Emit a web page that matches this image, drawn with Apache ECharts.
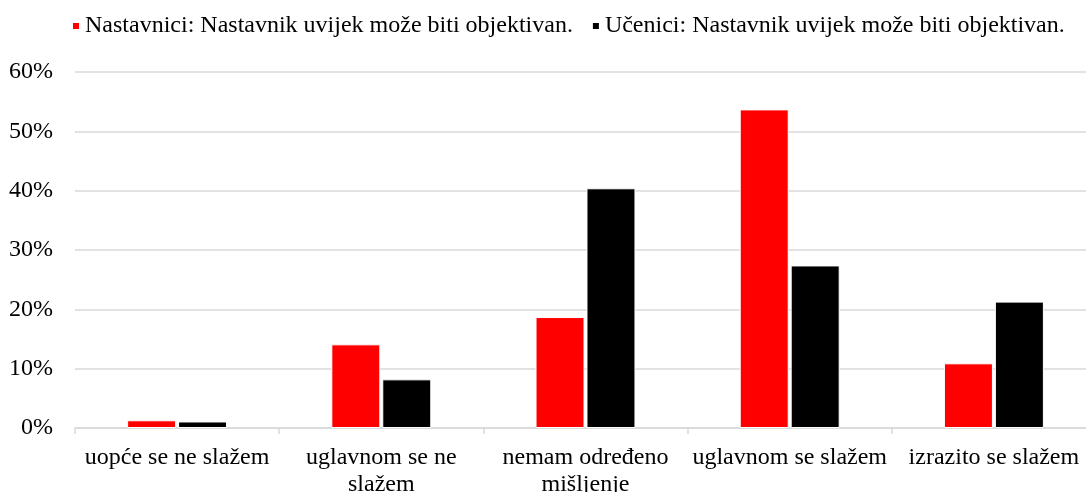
<!DOCTYPE html>
<html>
<head>
<meta charset="utf-8">
<script src="https://cdn.jsdelivr.net/npm/echarts@6/dist/echarts.min.js"></script>
<style>
  html, body { margin: 0; padding: 0; background: #fff; }
  #chart { width: 1086px; height: 492px; }
</style>
</head>
<body>
<div id="chart"></div>
<script>
// categories and values (percent)
const categories = [
  'uopće se ne slažem',
  'uglavnom se ne slažem',
  'nemam određeno mišljenje',
  'uglavnom se slažem',
  'izrazito se slažem'
];
const seriesNames = [
  'Nastavnici: Nastavnik uvijek može biti objektivan.',
  'Učenici: Nastavnik uvijek može biti objektivan.'
];
const teachers = [1.3, 14.1, 18.7, 53.7, 10.9];
const students = [1.1, 8.2, 40.4, 27.4, 21.3];

const FONT = '"Liberation Serif", "Times New Roman", serif';

// long labels wrap at their last space, like the original
const wrapLabel = (s) => {
  if (s.length <= 20) return s;
  const i = s.lastIndexOf(' ');
  return s.slice(0, i) + '\n' + s.slice(i + 1);
};

const chart = echarts.init(document.getElementById('chart'));

chart.setOption({
  animation: false,
  textStyle: { fontFamily: FONT, color: '#000' },
  legend: {
    top: 9,
    left: 66,
    itemWidth: 8,
    itemHeight: 8,
    itemGap: 18,
    itemTextGap: 4,
    icon: 'rect',
    textStyle: { fontFamily: FONT, fontSize: 24, color: '#000' },
    data: seriesNames
  },
  grid: {
    left: 75,
    right: -10,
    top: 72,
    bottom: 64,
    outerBoundsMode: 'none'
  },
  xAxis: {
    type: 'category',
    data: categories,
    axisLine: { lineStyle: { color: '#d9d9d9', width: 1.5 } },
    axisTick: { show: true, length: 6, lineStyle: { color: '#d9d9d9', width: 1.5 } },
    axisLabel: {
      fontFamily: FONT,
      fontSize: 24,
      color: '#000',
      margin: 16,
      interval: 0,
      lineHeight: 27,
      formatter: wrapLabel
    }
  },
  yAxis: {
    type: 'value',
    min: 0,
    max: 60,
    interval: 10,
    axisLine: { show: false },
    axisTick: { show: false },
    splitLine: { lineStyle: { color: '#d9d9d9', width: 1.5 } },
    axisLabel: {
      fontFamily: FONT,
      fontSize: 24,
      color: '#000',
      margin: 22,
      formatter: '{value}%'
    }
  },
  series: [
    {
      name: seriesNames[0],
      type: 'bar',
      data: teachers,
      barWidth: 49,
      barGap: '4%',
      itemStyle: { color: '#ff0000', borderColor: '#fff', borderWidth: 1 }
    },
    {
      name: seriesNames[1],
      type: 'bar',
      data: students,
      barWidth: 49,
      itemStyle: { color: '#000000', borderColor: '#fff', borderWidth: 1 }
    }
  ]
});
</script>
</body>
</html>
